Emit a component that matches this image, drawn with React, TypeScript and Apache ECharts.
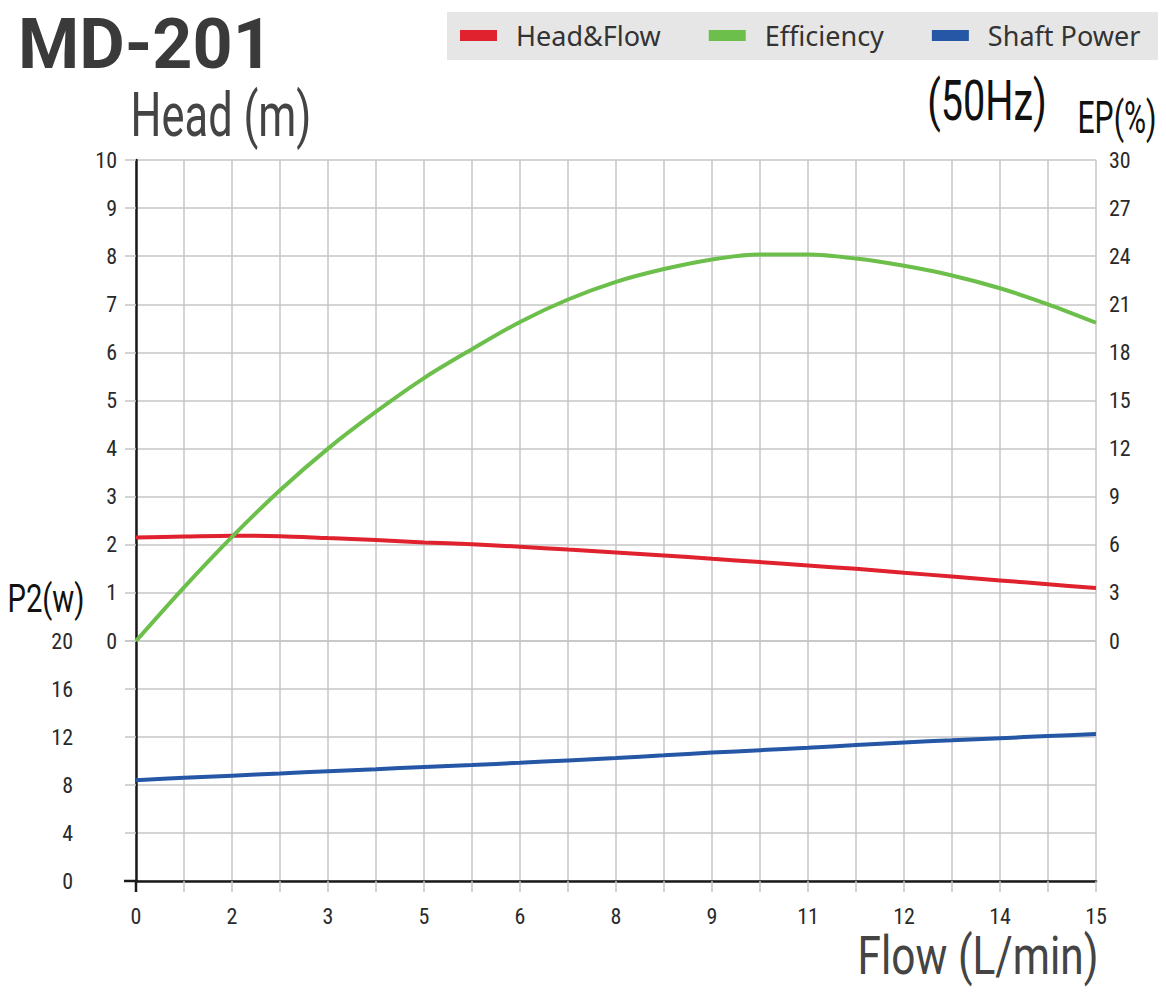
import React, { useEffect, useRef } from "react";
import * as echarts from "echarts";

const flows = [
  0, 0.75, 1.5, 2.25, 3, 3.75, 4.5, 5.25, 6, 6.75, 7.5, 8.25, 9, 9.75, 10.5, 11.25, 12, 12.75, 13.5, 14.25, 15,
];
const headValues = [
  2.15, 2.17, 2.19, 2.18, 2.14, 2.1, 2.05, 2.01, 1.96, 1.9, 1.84, 1.78, 1.71, 1.64, 1.57, 1.5, 1.42, 1.34, 1.26, 1.18, 1.1,
];
const efficiencyValues = [
  0, 3.35, 6.5, 9.4, 12.0, 14.3, 16.4, 18.2, 19.9, 21.3, 22.4, 23.2, 23.8, 24.1, 24.1, 23.85, 23.4, 22.8, 22.0, 21.0, 19.85,
];
const powerValues = [
  8.4, 8.6, 8.78, 8.96, 9.15, 9.32, 9.5, 9.67, 9.85, 10.05, 10.25, 10.47, 10.7, 10.9, 11.1, 11.33, 11.55, 11.72, 11.9, 12.08, 12.25,
];
const xTickLabels = ["0", "2", "3", "5", "6", "8", "9", "11", "12", "14", "15"];
const seriesNames = ["Head&Flow", "Efficiency", "Shaft Power"];
const seriesColors = ["#e0212e", "#6cbf4a", "#2557a6"];

const TICK_FONT = "'Liberation Sans Narrow', 'Roboto Condensed', 'Noto Sans', sans-serif";
const NARROW = "Roboto, 'Noto Sans', sans-serif";
const GRID_COLOR = "#c6c6c6";
const AXIS_COLOR = "#1a1a1a";

export default function App() {
  const ref = useRef<HTMLDivElement>(null);
  useEffect(() => {
    if (!ref.current) return;
    const chart = echarts.init(ref.current, undefined, { renderer: "svg" });
    const label = (margin: number) => ({
      show: true,
      margin,
      fontSize: 22,
      color: "#2a2a2a",
      fontFamily: TICK_FONT,
    });
    const split = { show: true, lineStyle: { color: GRID_COLOR, width: 1.5 } };
    const tick = { show: true, length: 11, inside: false, lineStyle: { color: GRID_COLOR, width: 1.5 } };
    const blackLine = { show: true, onZero: false, lineStyle: { color: AXIS_COLOR, width: 2.5 } };
    const pairs = (vals: number[]) => flows.map((f, i) => [f, vals[i]]);

    const option: any = {
      animation: false,
      backgroundColor: "#ffffff",
      grid: [
        { left: 136, right: 70, top: 160, height: 481 },
        { left: 136, right: 70, top: 641, height: 240 },
      ],
      legend: {
        left: 460,
        top: 22,
        padding: 0,
        icon: "rect",
        itemWidth: 37,
        itemHeight: 11,
        itemGap: 48,
        data: seriesNames,
        textStyle: {
          fontSize: 27,
          color: "#333",
          fontFamily: "'Noto Sans', sans-serif",
          padding: [0, 0, 0, 14],
        },
      },
      xAxis: [
        {
          gridIndex: 0,
          type: "value",
          min: 0,
          max: 15,
          interval: 0.75,
          axisLine: { show: false },
          axisTick: { show: false },
          axisLabel: { show: false },
          splitLine: split,
        },
        {
          gridIndex: 1,
          type: "value",
          min: 0,
          max: 15,
          interval: 0.75,
          axisLine: blackLine,
          axisTick: tick,
          axisLabel: {
            ...label(24),
            formatter: (v: number) => {
              const k = Math.round(v / 0.75);
              return k % 2 === 0 ? xTickLabels[k / 2] : "";
            },
          },
          splitLine: split,
        },
      ],
      yAxis: [
        {
          gridIndex: 0,
          type: "value",
          position: "left",
          min: 0,
          max: 10,
          interval: 1,
          axisLine: blackLine,
          axisTick: tick,
          axisLabel: label(19),
          splitLine: split,
        },
        {
          gridIndex: 0,
          type: "value",
          position: "right",
          min: 0,
          max: 30,
          interval: 3,
          axisLine: { show: false },
          axisTick: { show: false },
          axisLabel: label(13),
          splitLine: { show: false },
        },
        {
          gridIndex: 1,
          type: "value",
          position: "left",
          min: 0,
          max: 20,
          interval: 4,
          axisLine: blackLine,
          axisTick: tick,
          axisLabel: label(63),
          splitLine: split,
        },
      ],
      graphic: [
        {
          type: "rect",
          z: -10,
          shape: { x: 447, y: 12, width: 711, height: 48 },
          style: { fill: "#e6e6e6" },
        },
        {
          type: "line",
          z: 10,
          shape: { x1: 124, y1: 881, x2: 137, y2: 881 },
          style: { stroke: AXIS_COLOR, lineWidth: 2.5 },
        },
        {
          type: "line",
          z: 10,
          shape: { x1: 136, y1: 880, x2: 136, y2: 892 },
          style: { stroke: AXIS_COLOR, lineWidth: 2.5 },
        },
        {
          type: "text",
          x: 18,
          y: 44,
          style: {
            text: "MD-201",
            fontSize: 70,
            fontWeight: "bold",
            fontFamily: "Roboto, 'Noto Sans', sans-serif",
            fill: "#3a3a3a",
            align: "left",
            verticalAlign: "middle",
          },
        },
        {
          type: "text",
          x: 221,
          y: 115,
          scaleX: 0.7,
          style: {
            text: "Head (m)",
            fontSize: 62,
            fontFamily: NARROW,
            fill: "#444",
            align: "center",
            verticalAlign: "middle",
          },
        },
        {
          type: "text",
          x: 987,
          y: 102,
          scaleX: 0.72,
          style: {
            text: "(50Hz)",
            fontSize: 55,
            fontFamily: NARROW,
            fill: "#111",
            align: "center",
            verticalAlign: "middle",
          },
        },
        {
          type: "text",
          x: 1117,
          y: 117,
          scaleX: 0.67,
          style: {
            text: "EP(%)",
            fontSize: 45,
            fontFamily: NARROW,
            fill: "#111",
            align: "center",
            verticalAlign: "middle",
          },
        },
        {
          type: "text",
          x: 46,
          y: 598,
          scaleX: 0.75,
          style: {
            text: "P2(w)",
            fontSize: 39,
            fontFamily: NARROW,
            fill: "#111",
            align: "center",
            verticalAlign: "middle",
          },
        },
        {
          type: "text",
          x: 978,
          y: 956,
          scaleX: 0.8,
          style: {
            text: "Flow (L/min)",
            fontSize: 53,
            fontFamily: NARROW,
            fill: "#444",
            align: "center",
            verticalAlign: "middle",
          },
        },
      ],
      series: [
        {
          name: seriesNames[0],
          type: "line",
          xAxisIndex: 0,
          yAxisIndex: 0,
          data: pairs(headValues),
          smooth: 0.3,
          symbol: "none",
          color: seriesColors[0],
          lineStyle: { color: seriesColors[0], width: 4 },
          z: 3,
        },
        {
          name: seriesNames[1],
          type: "line",
          xAxisIndex: 0,
          yAxisIndex: 1,
          data: pairs(efficiencyValues),
          smooth: 0.3,
          symbol: "none",
          color: seriesColors[1],
          lineStyle: { color: seriesColors[1], width: 4 },
          z: 4,
        },
        {
          name: seriesNames[2],
          type: "line",
          xAxisIndex: 1,
          yAxisIndex: 2,
          data: pairs(powerValues),
          smooth: 0.3,
          symbol: "none",
          color: seriesColors[2],
          lineStyle: { color: seriesColors[2], width: 4 },
          z: 3,
        },
      ],
    };
    chart.setOption(option);
    return () => chart.dispose();
  }, []);
  return (
    <div
      ref={ref}
      style={{ position: "absolute", left: 0, top: 0, width: 1166, height: 1000, background: "#fff" }}
    />
  );
}
